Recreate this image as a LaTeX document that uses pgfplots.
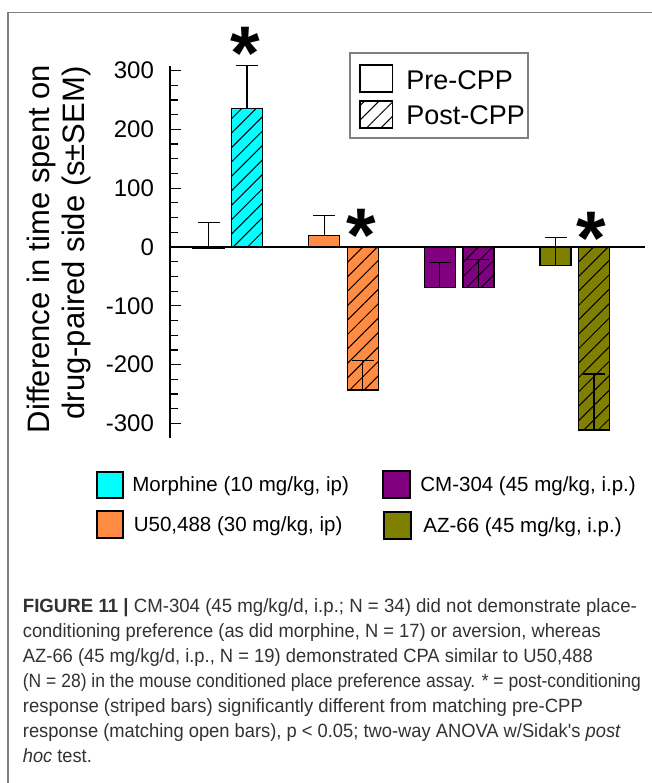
\documentclass[border=0pt]{standalone}
\usepackage{fontspec}
\setmainfont{Liberation Sans}
\newfontfamily\capfont[FakeStretch=0.95]{Liberation Sans}
\usepackage{graphicx}
\usepackage{pgfplots}
\pgfplotsset{compat=1.18}
\usetikzlibrary{patterns.meta}
\definecolor{cyanb}{RGB}{0,255,255}
\definecolor{orangeb}{RGB}{255,140,66}
\definecolor{purpleb}{RGB}{128,0,128}
\definecolor{oliveb}{RGB}{128,128,0}
\definecolor{framegray}{RGB}{128,128,128}
\definecolor{captext}{RGB}{50,50,50}
\tikzset{hatch/.style={postaction={pattern={Lines[angle=45,distance=5.1pt,line width=0.5pt]}}}}
\newcommand\fitline[2]{\resizebox{#1}{\height}{#2}}

\begin{document}
\begin{tikzpicture}
\begin{scope}[x=0.5pt,y=-0.5pt]
\draw[framegray, line width=0.6pt] (8,783) -- (8,12.5) -- (652,12.5);
\end{scope}

\begin{axis}[
  at={(85pt,-219.1pt)}, anchor=south west,
  width=237.5pt, height=186.2pt, scale only axis,
  xmin=-0.333, xmax=3.773, ymin=-325, ymax=308,
  axis x line=none, axis y line=left,
  axis line style={-, black, line width=0.6pt},
  ytick={-300,-200,-100,0,100,200,300},
  yticklabels={-300,-200,-100,0,100,200,300},
  minor y tick num=3,
  tick align=inside,
  major tick length=5.5pt, minor tick length=4pt,
  tick style={black, line width=0.6pt},
  yticklabel style={font=\fontsize{12}{14}\selectfont, xshift=-4.5pt},
  clip=false,
  error bars/error bar style={black, line width=0.6pt},
  error bars/error mark options={rotate=90, black, line width=0.6pt, mark size=5.5pt},
]
% Pre-CPP bars (open)
\addplot[ybar, bar width=15.5pt, bar shift=0pt, fill=cyanb, draw=black, line width=0.6pt,
  error bars/.cd, y dir=plus, y explicit] table[x=x, y=y, y error=e] {
x y e
0 -3 44
};
\addplot[ybar, bar width=15.5pt, bar shift=0pt, fill=orangeb, draw=black, line width=0.6pt,
  error bars/.cd, y dir=plus, y explicit] table[x=x, y=y, y error=e] {
x y e
1 20 33
};
\addplot[ybar, bar width=15.5pt, bar shift=0pt, fill=purpleb, draw=black, line width=0.6pt,
  error bars/.cd, y dir=plus, y explicit] table[x=x, y=y, y error=e] {
x y e
2 -69 43
};
\addplot[ybar, bar width=15.5pt, bar shift=0pt, fill=oliveb, draw=black, line width=0.6pt,
  error bars/.cd, y dir=plus, y explicit] table[x=x, y=y, y error=e] {
x y e
3 -32 48
};
% Post-CPP bars (striped)
\addplot[ybar, bar width=15.5pt, bar shift=0pt, fill=cyanb, draw=black, line width=0.6pt, hatch,
  error bars/.cd, y dir=plus, y explicit] table[x=x, y=y, y error=e] {
x y e
0.333 235 73
};
\addplot[ybar, bar width=15.5pt, bar shift=0pt, fill=orangeb, draw=black, line width=0.6pt, hatch,
  error bars/.cd, y dir=plus, y explicit] table[x=x, y=y, y error=e] {
x y e
1.333 -243 50
};
\addplot[ybar, bar width=15.5pt, bar shift=0pt, fill=purpleb, draw=black, line width=0.6pt, hatch,
  error bars/.cd, y dir=plus, y explicit] table[x=x, y=y, y error=e] {
x y e
2.333 -69 48
};
\addplot[ybar, bar width=15.5pt, bar shift=0pt, fill=oliveb, draw=black, line width=0.6pt, hatch,
  error bars/.cd, y dir=plus, y explicit] table[x=x, y=y, y error=e] {
x y e
3.333 -311 95
};
% zero line
\addplot[sharp plot, black, line width=0.6pt, mark=none] coordinates {(-0.333,0) (3.773,0)};
% significance asterisks
\node[anchor=north, inner sep=0pt, font=\fontsize{38}{40}\bfseries\selectfont] at (axis cs:0.315,374) {*};
\node[anchor=north, inner sep=0pt, font=\fontsize{38}{40}\bfseries\selectfont] at (axis cs:1.322,64.6) {*};
\node[anchor=north, inner sep=0pt, font=\fontsize{38}{40}\bfseries\selectfont] at (axis cs:3.306,59.5) {*};
\end{axis}

\begin{scope}[x=0.5pt,y=-0.5pt]
% y label
\node[rotate=90, anchor=base, inner sep=0pt, font=\fontsize{15.5}{18}\selectfont] at (49,249) {Difference in time spent on};
\node[rotate=90, anchor=base, inner sep=0pt, font=\fontsize{15.5}{18}\selectfont] at (84,243) {drug-paired side (s±SEM)};
% Pre/Post legend
\draw[framegray, line width=0.6pt, fill=white] (350,53) rectangle (528,138);
\draw[black, line width=0.6pt, fill=white] (360,65) rectangle (392.5,92);
\draw[black, line width=0.6pt, fill=white, hatch] (360,101) rectangle (392.5,128);
\node[anchor=base west, inner sep=0pt, font=\fontsize{13.5}{16}\selectfont] at (406,89) {Pre-CPP};
\node[anchor=base west, inner sep=0pt, font=\fontsize{13.5}{16}\selectfont] at (406,124) {Post-CPP};
% colour legend
\draw[black, line width=0.6pt, fill=cyanb] (97,472) rectangle (123,498);
\draw[black, line width=0.6pt, fill=orangeb] (97,511) rectangle (123,538);
\draw[black, line width=0.6pt, fill=purpleb] (383,471) rectangle (410,498);
\draw[black, line width=0.6pt, fill=oliveb] (384,512) rectangle (411,539);
\node[anchor=base west, inner sep=0pt, font=\fontsize{10.25}{12}\selectfont] at (132,491.5) {Morphine (10 mg/kg, ip)};
\node[anchor=base west, inner sep=0pt, font=\fontsize{10.25}{12}\selectfont] at (133.5,531.5) {U50,488 (30 mg/kg, ip)};
\node[anchor=base west, inner sep=0pt, font=\fontsize{10.25}{12}\selectfont] at (420,491.5) {CM-304 (45 mg/kg, i.p.)};
\node[anchor=base west, inner sep=0pt, font=\fontsize{10.25}{12}\selectfont] at (423,532) {AZ-66 (45 mg/kg, i.p.)};
% caption
\begin{scope}[every node/.style={anchor=base west, inner sep=0pt, text=captext, font=\capfont\fontsize{9.6}{11}\selectfont}]
\node at (22.5,612) {\fitline{307pt}{\textbf{FIGURE 11 |} CM-304 (45 mg/kg/d, i.p.; N = 34) did not demonstrate place-}};
\node at (22.5,637) {\fitline{289pt}{conditioning preference (as did morphine, N = 17) or aversion, whereas}};
\node at (22.5,662) {\fitline{285pt}{AZ-66 (45 mg/kg/d, i.p., N = 19) demonstrated CPA similar to U50,488}};
\node at (22.5,687) {\fitline{309pt}{(N = 28) in the mouse conditioned place preference assay. * = post-conditioning}};
\node at (22.5,712) {\fitline{280pt}{response (striped bars) significantly different from matching pre-CPP}};
\node at (22.5,737) {\fitline{299pt}{response (matching open bars), p < 0.05; two-way ANOVA w/Sidak's \textit{post}}};
\node at (22.5,762) {\textit{hoc} test.};
\end{scope}
\end{scope}
\pgfresetboundingbox
\path[use as bounding box] (0pt,0pt) rectangle (326pt,-391.5pt);
\end{tikzpicture}
\end{document}
